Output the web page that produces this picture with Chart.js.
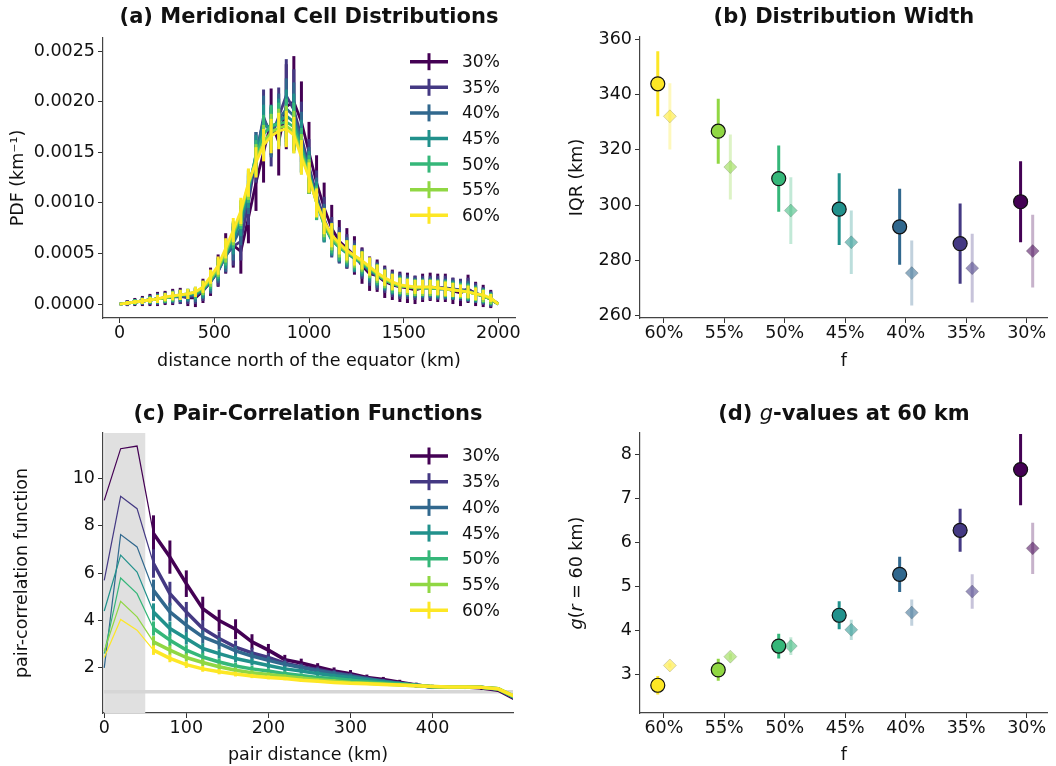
<!DOCTYPE html>
<html>
<head>
<meta charset="utf-8">
<script src="https://cdn.jsdelivr.net/npm/chart.js@4.4.1/dist/chart.umd.min.js"></script>
<style>
  html, body { margin: 0; padding: 0; background: #fff; }
  #wrap { position: relative; width: 1056px; height: 766px; overflow: hidden; }
  canvas { position: absolute; }
</style>
</head>
<body>
<div id="wrap">
  <canvas id="pdfChart" width="528" height="383" style="left:0;top:0"></canvas>
  <canvas id="iqrChart" width="528" height="383" style="left:528px;top:0"></canvas>
  <canvas id="pcfChart" width="528" height="383" style="left:0;top:383px"></canvas>
  <canvas id="gChart" width="528" height="383" style="left:528px;top:383px"></canvas>
</div>
<script>
// series labels (30% .. 60%) and their viridis colours
const fracLabels = ["30%", "35%", "40%", "45%", "50%", "55%", "60%"];
const viridis7 = ["#440154", "#443983", "#31688e", "#21918c", "#35b779", "#90d743", "#fde725"];

// (a) meridional distribution, PDF values in units of 1e-5 km^-1
const PDF_UNIT = 1e-5;
const distKm = [0, 40, 80, 120, 160, 200, 240, 280, 320, 360, 400, 440, 480, 520, 560, 600, 640, 680, 720, 760,
  800, 840, 880, 920, 960, 1000, 1040, 1080, 1120, 1160, 1200, 1240, 1280, 1320, 1360, 1400, 1440, 1480, 1520, 1560,
  1600, 1640, 1680, 1720, 1760, 1800, 1840, 1880, 1920, 1960, 2000];
const pdf30 = [0, 1, 2, 3, 4, 5, 6, 7, 8, 6, 6, 13, 22, 33, 50, 58, 52, 85, 120, 150, 180, 160, 195, 200, 180, 150, 120, 95, 75, 62, 55, 48, 38, 30, 28, 22, 19, 17, 16, 14, 16, 17, 16, 16, 13, 11, 15, 10, 8, 5, 0];
const pdf35 = [0, 1, 2, 3, 4, 5, 6, 7, 7, 7, 8, 13, 22, 32, 48, 57, 62, 100, 145, 185, 165, 185, 206, 192, 165, 136, 108, 84, 66, 58, 52, 47, 40, 32, 28, 24, 20, 18, 17, 16, 16, 16, 16, 16, 15, 14, 14, 11, 8, 5, 0];
const pdf40 = [0, 1, 2, 3, 4, 5, 6, 7, 8, 8, 9, 14, 22, 33, 47, 60, 75, 108, 148, 182, 170, 182, 193, 186, 160, 132, 104, 80, 64, 57, 51, 46, 40, 33, 28, 24, 20, 18, 17, 16, 16, 16, 15, 15, 14, 14, 13, 10, 8, 5, 0];
const pdf45 = [0, 1, 2, 3, 4, 5, 6, 7, 8, 9, 10, 14, 23, 34, 48, 64, 82, 112, 148, 176, 175, 180, 186, 180, 156, 130, 102, 78, 63, 56, 50, 45, 40, 34, 29, 24, 20, 18, 17, 16, 16, 16, 15, 15, 14, 13, 12, 10, 8, 5, 0];
const pdf50 = [0, 1, 2, 3, 4, 5, 6, 7, 9, 10, 11, 15, 24, 35, 50, 68, 88, 116, 145, 168, 176, 178, 180, 175, 152, 128, 100, 78, 64, 56, 51, 46, 41, 35, 29, 24, 20, 18, 17, 16, 16, 16, 15, 15, 14, 13, 12, 10, 8, 5, 0];
const pdf55 = [0, 1, 2, 3, 4, 5, 6, 8, 9, 10, 12, 16, 25, 36, 52, 70, 90, 118, 142, 160, 170, 174, 176, 170, 148, 126, 100, 80, 66, 58, 52, 47, 42, 36, 30, 25, 21, 18, 17, 16, 16, 16, 16, 15, 14, 13, 12, 10, 8, 5, 0];
const pdf60 = [0, 1, 2, 3, 4, 5, 7, 8, 9, 10, 12, 17, 27, 38, 55, 73, 92, 120, 140, 157, 166, 171, 173, 167, 145, 125, 100, 82, 68, 60, 53, 48, 43, 37, 31, 26, 22, 19, 18, 17, 17, 17, 16, 15, 14, 13, 12, 10, 9, 6, 0];
const pdfErr30 = [0, 3, 4, 5, 6, 7, 7, 8, 8, 8, 9, 12, 14, 16, 20, 22, 22, 25, 28, 30, 33, 33, 42, 45, 40, 30, 27, 25, 23, 21, 20, 19, 18, 17, 16, 16, 15, 15, 15, 14, 14, 14, 14, 14, 13, 13, 14, 12, 11, 9, 0];
const pdfErr35 = [0, 3, 3, 4, 5, 6, 6, 7, 7, 7, 8, 10, 12, 14, 17, 19, 19, 22, 25, 27, 29, 29, 36, 40, 35, 27, 24, 22, 20, 18, 17, 16, 15, 14, 14, 13, 13, 13, 12, 12, 12, 12, 12, 12, 11, 11, 12, 10, 9, 8, 0];
const pdfErr40 = [0, 2, 3, 4, 4, 5, 5, 6, 6, 6, 7, 9, 11, 12, 15, 17, 17, 19, 22, 24, 25, 26, 30, 33, 30, 23, 21, 19, 17, 16, 15, 14, 13, 12, 12, 11, 11, 11, 10, 10, 10, 10, 10, 10, 10, 9, 10, 9, 8, 7, 0];
const pdfErr45 = [0, 2, 3, 3, 4, 5, 5, 5, 6, 6, 6, 8, 10, 11, 13, 15, 15, 17, 19, 21, 22, 23, 26, 28, 26, 21, 19, 17, 15, 14, 13, 13, 12, 11, 11, 10, 10, 10, 9, 9, 9, 9, 9, 9, 9, 8, 9, 8, 7, 6, 0];
const pdfErr50 = [0, 2, 3, 3, 4, 4, 5, 5, 5, 5, 6, 7, 9, 10, 12, 13, 14, 16, 17, 19, 20, 21, 23, 24, 22, 19, 17, 15, 14, 13, 12, 12, 11, 10, 10, 9, 9, 9, 8, 8, 8, 8, 8, 8, 8, 8, 8, 7, 7, 6, 0];
const pdfErr55 = [0, 2, 2, 3, 3, 4, 4, 5, 5, 5, 5, 7, 8, 9, 11, 12, 13, 15, 16, 17, 18, 19, 20, 21, 20, 17, 15, 14, 13, 12, 11, 11, 10, 10, 9, 9, 8, 8, 8, 8, 8, 8, 8, 8, 7, 7, 7, 7, 6, 5, 0];
const pdfErr60 = [0, 2, 2, 3, 3, 4, 4, 4, 5, 5, 5, 6, 7, 9, 10, 12, 13, 14, 15, 16, 17, 18, 18, 18, 17, 15, 14, 13, 12, 11, 10, 10, 9, 9, 8, 8, 8, 7, 7, 7, 7, 7, 7, 7, 7, 6, 6, 6, 5, 4, 0];
const distTicks = [0, 500, 1000, 1500, 2000];
const pdfTicks = [0, 0.0005, 0.001, 0.0015, 0.002, 0.0025];

// (b) and (d): categories along f
const fCats = ["60%", "55%", "50%", "45%", "40%", "35%", "30%"];
const fColors = ["#fde725", "#90d743", "#35b779", "#21918c", "#31688e", "#443983", "#440154"];
const iqrCircle = [344.0, 326.8, 309.6, 298.5, 292.1, 286.0, 301.2];
const iqrCircleErr = [11.8, 11.8, 12.0, 13.0, 13.8, 14.6, 14.7];
const iqrDiamond = [332.2, 313.8, 298.0, 286.5, 275.3, 277.1, 283.3];
const iqrDiamondErr = [12.0, 11.8, 12.1, 11.5, 11.8, 12.5, 13.2];
const iqrTicks = [260, 280, 300, 320, 340, 360];

const gCircle = [2.76, 3.11, 3.65, 4.35, 5.28, 6.28, 7.66];
const gCircleErr = [0.21, 0.25, 0.28, 0.32, 0.4, 0.49, 0.81];
const gDiamond = [3.21, 3.41, 3.65, 4.02, 4.41, 4.89, 5.87];
const gDiamondErr = [0.05, 0.07, 0.2, 0.23, 0.3, 0.39, 0.58];
const gTicks = [3, 4, 5, 6, 7, 8];

// (c) pair-correlation functions
const pairKm = [0, 20, 40, 60, 80, 100, 120, 140, 160, 180, 200, 220, 240, 260, 280, 300, 320, 340, 360, 380, 400, 420, 440, 460, 480, 500];
const pcf30 = [9.06, 11.24, 11.35, 7.66, 6.67, 5.55, 4.5, 4.0, 3.63, 3.1, 2.75, 2.35, 2.21, 2.04, 1.87, 1.76, 1.6, 1.51, 1.4, 1.28, 1.2, 1.2, 1.2, 1.15, 1.06, 0.7];
const pcf35 = [5.69, 9.23, 8.71, 6.4, 5.13, 4.36, 3.66, 3.24, 2.88, 2.63, 2.44, 2.2, 2.05, 1.93, 1.8, 1.69, 1.55, 1.45, 1.35, 1.27, 1.2, 1.18, 1.18, 1.18, 1.1, 0.75];
const pcf40 = [2.0, 7.62, 7.1, 5.27, 4.36, 3.8, 3.31, 3.03, 2.72, 2.5, 2.32, 2.15, 2.02, 1.88, 1.77, 1.66, 1.54, 1.44, 1.34, 1.26, 1.2, 1.2, 1.2, 1.18, 1.1, 0.75];
const pcf45 = [4.4, 6.75, 6.04, 4.36, 3.66, 3.24, 2.82, 2.6, 2.4, 2.25, 2.1, 1.96, 1.87, 1.76, 1.67, 1.6, 1.5, 1.42, 1.34, 1.27, 1.2, 1.2, 1.19, 1.18, 1.12, 0.75];
const pcf50 = [2.6, 5.79, 5.13, 3.66, 3.17, 2.75, 2.46, 2.25, 2.08, 1.96, 1.87, 1.76, 1.68, 1.6, 1.55, 1.48, 1.42, 1.36, 1.32, 1.27, 1.22, 1.2, 1.2, 1.18, 1.12, 0.78];
const pcf55 = [2.7, 4.81, 4.15, 3.1, 2.75, 2.44, 2.23, 2.05, 1.9, 1.8, 1.72, 1.65, 1.58, 1.5, 1.45, 1.39, 1.35, 1.32, 1.28, 1.25, 1.22, 1.2, 1.2, 1.18, 1.12, 0.8];
const pcf60 = [2.44, 4.04, 3.59, 2.75, 2.4, 2.14, 1.96, 1.84, 1.74, 1.66, 1.6, 1.55, 1.48, 1.44, 1.39, 1.35, 1.33, 1.3, 1.28, 1.25, 1.22, 1.2, 1.2, 1.18, 1.12, 0.8];
const pcfErr30 = [0, 0, 0, 0.77, 0.7, 0.56, 0.5, 0.45, 0.42, 0.32, 0.26, 0.2, 0.18, 0.16, 0.15, 0.15, 0.12, 0.11, 0.1, 0.1, 0.09, 0.08, 0.08, 0.08, 0.07, 0.06];
const pcfErr35 = [0, 0, 0, 0.6, 0.5, 0.42, 0.36, 0.3, 0.27, 0.22, 0.19, 0.16, 0.14, 0.13, 0.12, 0.11, 0.1, 0.09, 0.08, 0.08, 0.07, 0.07, 0.07, 0.06, 0.06, 0.05];
const pcfErr40 = [0, 0, 0, 0.45, 0.38, 0.32, 0.28, 0.24, 0.21, 0.18, 0.16, 0.14, 0.12, 0.11, 0.1, 0.09, 0.08, 0.08, 0.07, 0.07, 0.06, 0.06, 0.06, 0.05, 0.05, 0.05];
const pcfErr45 = [0, 0, 0, 0.36, 0.3, 0.26, 0.22, 0.19, 0.17, 0.15, 0.13, 0.12, 0.1, 0.1, 0.09, 0.08, 0.07, 0.07, 0.06, 0.06, 0.06, 0.05, 0.05, 0.05, 0.05, 0.04];
const pcfErr50 = [0, 0, 0, 0.3, 0.25, 0.21, 0.18, 0.16, 0.14, 0.12, 0.11, 0.1, 0.09, 0.08, 0.08, 0.07, 0.07, 0.06, 0.06, 0.05, 0.05, 0.05, 0.05, 0.04, 0.04, 0.04];
const pcfErr55 = [0, 0, 0, 0.24, 0.2, 0.17, 0.15, 0.13, 0.12, 0.1, 0.09, 0.08, 0.08, 0.07, 0.07, 0.06, 0.06, 0.05, 0.05, 0.05, 0.05, 0.04, 0.04, 0.04, 0.04, 0.04];
const pcfErr60 = [0, 0, 0, 0.2, 0.16, 0.14, 0.12, 0.11, 0.1, 0.09, 0.08, 0.07, 0.07, 0.06, 0.06, 0.05, 0.05, 0.05, 0.05, 0.04, 0.04, 0.04, 0.04, 0.04, 0.04, 0.04];
const pairTicks = [0, 100, 200, 300, 400];
const pcfTicks = [2, 4, 6, 8, 10];
const shadedKm = [0, 50];
const unityLineX = [0, 500];
const unityLineY = [1, 1];

const pdfSeries = [pdf30, pdf35, pdf40, pdf45, pdf50, pdf55, pdf60];
const pdfErrs = [pdfErr30, pdfErr35, pdfErr40, pdfErr45, pdfErr50, pdfErr55, pdfErr60];
const pcfSeries = [pcf30, pcf35, pcf40, pcf45, pcf50, pcf55, pcf60];
const pcfErrs = [pcfErr30, pcfErr35, pcfErr40, pcfErr45, pcfErr50, pcfErr55, pcfErr60];
const DODGE = 0.1;
const FIRST_THICK = 3; // pcf index where the thick error-bar curve starts (60 km)

const TXT = 17.5; // tick / axis label size
const TITLE = 21;

Chart.defaults.font.family = "'DejaVu Sans', sans-serif";
Chart.defaults.font.size = TXT;
Chart.defaults.color = "#111";
Chart.defaults.animation = false;

function rgba(hex, a) {
  const n = parseInt(hex.slice(1), 16);
  return `rgba(${(n >> 16) & 255}, ${(n >> 8) & 255}, ${n & 255}, ${a})`;
}

const fixTicks = (vals) => (scale) => {
  scale.ticks = vals.map((v) => ({ value: v }));
};

function axis(extra) {
  return Object.assign(
    {
      type: "linear",
      grid: { drawOnChartArea: false, drawTicks: true, tickLength: 5, color: "#333", lineWidth: 1 },
      border: { display: true, color: "#444", width: 1.2 },
      ticks: { color: "#111", font: { size: TXT }, padding: 3, maxRotation: 0, autoSkip: false },
    },
    extra
  );
}

// vertical error bars, drawn just before each dataset so the draw order follows the datasets
const errorBars = {
  id: "errorBars",
  beforeDatasetDraw(chart, args) {
    const ds = chart.data.datasets[args.index];
    if (!ds.errors) return;
    const meta = args.meta;
    const yScale = chart.scales[meta.yAxisID];
    const { ctx, chartArea } = chart;
    ctx.save();
    ctx.beginPath();
    ctx.rect(chartArea.left, chartArea.top, chartArea.width, chartArea.height);
    ctx.clip();
    ctx.lineWidth = ds.errorWidth || 2;
    ctx.lineCap = "butt";
    meta.data.forEach((pt, i) => {
      const e = ds.errors[i];
      if (!e) return;
      const v = ds.data[i].y;
      ctx.strokeStyle = Array.isArray(ds.errorColor) ? ds.errorColor[i] : ds.errorColor;
      ctx.beginPath();
      ctx.moveTo(pt.x, yScale.getPixelForValue(v - e));
      ctx.lineTo(pt.x, yScale.getPixelForValue(v + e));
      ctx.stroke();
    });
    ctx.restore();
  },
};

// matplotlib-like errorbar legend: line with a vertical cap through it
const errLegend = {
  id: "errLegend",
  afterDraw(chart, args, opts) {
    if (!opts || !opts.labels) return;
    const { ctx } = chart;
    ctx.save();
    opts.labels.forEach((lab, k) => {
      const y = opts.y + k * opts.step;
      ctx.strokeStyle = opts.colors[k];
      ctx.lineWidth = 3.5;
      ctx.beginPath();
      ctx.moveTo(opts.x, y);
      ctx.lineTo(opts.x + 38, y);
      ctx.stroke();
      ctx.lineWidth = 3;
      ctx.beginPath();
      ctx.moveTo(opts.x + 19, y - 8.5);
      ctx.lineTo(opts.x + 19, y + 8.5);
      ctx.stroke();
      ctx.fillStyle = "#111";
      ctx.font = "17px 'DejaVu Sans'";
      ctx.textAlign = "left";
      ctx.textBaseline = "middle";
      ctx.fillText(lab, opts.x + 52, y + 1);
    });
    ctx.restore();
  },
};

// grey band over the excluded short distances in (c)
const shadeBand = {
  id: "shadeBand",
  beforeDatasetsDraw(chart, args, opts) {
    if (!opts || !opts.range) return;
    const { ctx, chartArea, scales } = chart;
    const x0 = scales.x.getPixelForValue(opts.range[0]);
    const x1 = scales.x.getPixelForValue(opts.range[1]);
    ctx.save();
    ctx.fillStyle = opts.color;
    ctx.fillRect(x0, chartArea.top, x1 - x0, chartArea.height);
    ctx.restore();
  },
};

// text with mixed italic / bold pieces (title and y label of panel d)
const richText = {
  id: "richText",
  afterDraw(chart, args, opts) {
    if (!opts || !opts.items) return;
    const { ctx, chartArea } = chart;
    opts.items.forEach((it) => {
      const x = it.x === "center" ? (chartArea.left + chartArea.right) / 2 : it.x;
      const y = it.y === "middle" ? (chartArea.top + chartArea.bottom) / 2 : it.y;
      ctx.save();
      ctx.translate(x, y);
      if (it.rotate) ctx.rotate(it.rotate);
      let total = 0;
      it.parts.forEach((p) => {
        ctx.font = p.font;
        total += ctx.measureText(p.text).width;
      });
      let cx = -total / 2;
      ctx.fillStyle = "#111";
      ctx.textAlign = "left";
      ctx.textBaseline = "middle";
      it.parts.forEach((p) => {
        ctx.font = p.font;
        ctx.fillText(p.text, cx, 0);
        cx += ctx.measureText(p.text).width;
      });
      ctx.restore();
    });
  },
};

function initPdfChart() {
  const datasets = fracLabels.map((lab, k) => ({
    label: lab,
    data: distKm.map((x, i) => ({ x, y: pdfSeries[k][i] * PDF_UNIT })),
    errors: pdfErrs[k].map((e) => e * PDF_UNIT),
    errorColor: viridis7[k],
    errorWidth: 3,
    borderColor: viridis7[k],
    borderWidth: 2.8,
    borderJoinStyle: "round",
    pointRadius: 0,
    tension: 0,
    order: 6 - k,
  }));
  return new Chart(document.getElementById("pdfChart"), {
    type: "line",
    data: { datasets },
    plugins: [errorBars, errLegend],
    options: {
      responsive: false,
      layout: { padding: { left: 0, right: 13, top: 0, bottom: 0 } },
      plugins: {
        legend: { display: false },
        tooltip: { enabled: false },
        title: {
          display: true,
          text: "(a) Meridional Cell Distributions",
          fullSize: false,
          color: "#111",
          font: { size: TITLE, weight: "bold" },
          padding: { top: 5.4, bottom: 7.4 },
        },
        errLegend: { labels: fracLabels, colors: viridis7, x: 410, y: 61.7, step: 25.6 },
      },
      scales: {
        x: axis({
          min: -88,
          max: 2088,
          afterBuildTicks: fixTicks(distTicks),
          afterFit: (s) => { s.height = 65; },
          ticks: { color: "#111", font: { size: TXT }, padding: 0, maxRotation: 0, callback: (v) => String(v) },
          title: { display: true, text: "distance north of the equator (km)", font: { size: TXT }, padding: { top: 0, bottom: 10.8 } },
        }),
        y: axis({
          min: -0.000138,
          max: 0.002629,
          afterBuildTicks: fixTicks(pdfTicks),
          afterFit: (s) => { s.width = 103; },
          ticks: { color: "#111", font: { size: TXT }, padding: 3, callback: (v) => Number(v).toFixed(4) },
          title: { display: true, text: "PDF (km⁻¹)", font: { size: TXT }, padding: { top: 7.8, bottom: 0 } },
        }),
      },
    },
  });
}

function catDatasets(circleVals, circleErr, diamondVals, diamondErr) {
  return [
    {
      label: "diamond",
      data: fCats.map((c, i) => ({ x: i + DODGE, y: diamondVals[i] })),
      errors: diamondErr,
      errorColor: fColors.map((c) => rgba(c, 0.3)),
      errorWidth: 3,
      pointStyle: "rectRot",
      pointRadius: 6.5,
      pointBackgroundColor: fColors.map((c) => rgba(c, 0.55)),
      pointBorderColor: "rgba(0, 0, 0, 0.15)",
      pointBorderWidth: 1,
      order: 2,
    },
    {
      label: "circle",
      data: fCats.map((c, i) => ({ x: i - DODGE, y: circleVals[i] })),
      errors: circleErr,
      errorColor: fColors,
      errorWidth: 3,
      pointStyle: "circle",
      pointRadius: 7,
      pointBackgroundColor: fColors,
      pointBorderColor: "#111",
      pointBorderWidth: 1.2,
      order: 1,
    },
  ];
}

function catXAxis(height, titleBottom) {
  return axis({
    min: -0.394,
    max: 6.35,
    afterBuildTicks: fixTicks(fCats.map((c, i) => i)),
    afterFit: (s) => { s.height = height; },
    ticks: { color: "#111", font: { size: TXT }, padding: 0, maxRotation: 0, autoSkip: false, callback: (v) => fCats[v] },
    title: { display: true, text: "f", font: { size: TXT }, padding: { top: 0, bottom: titleBottom } },
  });
}

function initIqrChart() {
  return new Chart(document.getElementById("iqrChart"), {
    type: "scatter",
    data: { datasets: catDatasets(iqrCircle, iqrCircleErr, iqrDiamond, iqrDiamondErr) },
    plugins: [errorBars],
    options: {
      responsive: false,
      layout: { padding: { left: 0, right: 0, top: 0, bottom: 0 } },
      plugins: {
        legend: { display: false },
        tooltip: { enabled: false },
        title: {
          display: true,
          text: "(b) Distribution Width",
          fullSize: false,
          color: "#111",
          font: { size: TITLE, weight: "bold" },
          padding: { top: 5.4, bottom: 6.4 },
        },
      },
      scales: {
        x: catXAxis(65, 10.8),
        y: axis({
          min: 259,
          max: 361,
          afterBuildTicks: fixTicks(iqrTicks),
          afterFit: (s) => { s.width = 112; },
          ticks: { color: "#111", font: { size: TXT }, padding: 3 },
          title: { display: true, text: "IQR (km)", font: { size: TXT }, padding: { top: 38.5, bottom: 0 } },
        }),
      },
    },
  });
}

function initPcfChart() {
  const datasets = [];
  fracLabels.forEach((lab, k) => {
    datasets.push({
      label: lab + " short",
      data: pairKm.slice(0, FIRST_THICK + 1).map((x, i) => ({ x, y: pcfSeries[k][i] })),
      borderColor: viridis7[k],
      borderWidth: 1.2,
      pointRadius: 0,
      tension: 0,
      order: 16 - k,
    });
    datasets.push({
      label: lab,
      data: pairKm.slice(FIRST_THICK).map((x, i) => ({ x, y: pcfSeries[k][i + FIRST_THICK] })),
      errors: pcfErrs[k].slice(FIRST_THICK),
      errorColor: viridis7[k],
      errorWidth: 3,
      borderColor: viridis7[k],
      borderWidth: 3.5,
      borderJoinStyle: "round",
      pointRadius: 0,
      tension: 0,
      order: 6 - k,
    });
  });
  datasets.push({
    label: "g = 1",
    data: unityLineX.map((x, i) => ({ x, y: unityLineY[i] })),
    borderColor: "#d6d6d6",
    borderWidth: 3.5,
    pointRadius: 0,
    order: 30,
  });
  return new Chart(document.getElementById("pcfChart"), {
    type: "line",
    data: { datasets },
    plugins: [shadeBand, errorBars, errLegend],
    options: {
      responsive: false,
      layout: { padding: { left: 0, right: 15, top: 0, bottom: 0 } },
      plugins: {
        legend: { display: false },
        tooltip: { enabled: false },
        title: {
          display: true,
          text: "(c) Pair-Correlation Functions",
          fullSize: false,
          color: "#111",
          font: { size: TITLE, weight: "bold" },
          padding: { top: 19.4, bottom: 5.4 },
        },
        shadeBand: { range: shadedKm, color: "#e0e0e0" },
        errLegend: { labels: fracLabels, colors: viridis7, x: 410, y: 73, step: 25.7 },
      },
      scales: {
        x: axis({
          min: -1.5,
          max: 498,
          afterBuildTicks: fixTicks(pairTicks),
          afterFit: (s) => { s.height = 53; },
          ticks: { color: "#111", font: { size: TXT }, padding: 0, maxRotation: 0 },
          title: { display: true, text: "pair distance (km)", font: { size: TXT }, padding: { top: 0, bottom: 0 } },
        }),
        y: axis({
          min: 0.1,
          max: 11.9,
          afterBuildTicks: fixTicks(pcfTicks),
          afterFit: (s) => { s.width = 103; },
          ticks: { color: "#111", font: { size: TXT }, padding: 3 },
          title: { display: true, text: "pair-correlation function", font: { size: TXT }, padding: { top: 11.5, bottom: 0 } },
        }),
      },
    },
  });
}

function initGChart() {
  return new Chart(document.getElementById("gChart"), {
    type: "scatter",
    data: { datasets: catDatasets(gCircle, gCircleErr, gDiamond, gDiamondErr) },
    plugins: [errorBars, richText],
    options: {
      responsive: false,
      layout: { padding: { left: 0, right: 0, top: 50, bottom: 0 } },
      plugins: {
        legend: { display: false },
        tooltip: { enabled: false },
        richText: {
          items: [
            {
              x: "center",
              y: 32,
              parts: [
                { text: "(d) ", font: `bold ${TITLE}px 'DejaVu Sans'` },
                { text: "g", font: `italic ${TITLE}px 'DejaVu Sans'` },
                { text: "-values at 60 km", font: `bold ${TITLE}px 'DejaVu Sans'` },
              ],
            },
            {
              x: 49,
              y: "middle",
              rotate: -Math.PI / 2,
              parts: [
                { text: "g", font: `italic ${TXT}px 'DejaVu Sans'` },
                { text: "(", font: `${TXT}px 'DejaVu Sans'` },
                { text: "r", font: `italic ${TXT}px 'DejaVu Sans'` },
                { text: " = 60 km)", font: `${TXT}px 'DejaVu Sans'` },
              ],
            },
          ],
        },
      },
      scales: {
        x: catXAxis(53, 0),
        y: axis({
          min: 2.13,
          max: 8.49,
          afterBuildTicks: fixTicks(gTicks),
          afterFit: (s) => { s.width = 112; },
          ticks: { color: "#111", font: { size: TXT }, padding: 3 },
        }),
      },
    },
  });
}

initPdfChart();
initIqrChart();
initPcfChart();
initGChart();
</script>
</body>
</html>
